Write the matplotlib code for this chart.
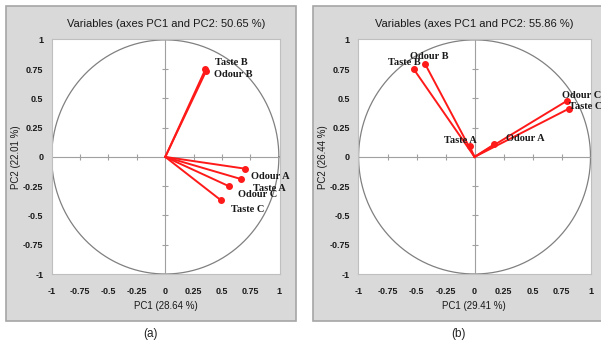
import numpy as np
import matplotlib.pyplot as plt
from matplotlib.patches import Rectangle

variables = ['Taste B', 'Odour B', 'Odour A', 'Taste A', 'Odour C', 'Taste C']

# panel (a) loadings
pc1_a = [0.353, 0.36, 0.70, 0.67, 0.56, 0.49]
pc2_a = [0.748, 0.735, -0.10, -0.19, -0.25, -0.37]
# panel (b) loadings
pc1_b = [-0.523, -0.428, 0.17, -0.043, 0.795, 0.815]
pc2_b = [0.748, 0.797, 0.108, 0.091, 0.478, 0.413]

titles = ['Variables (axes PC1 and PC2: 50.65 %)', 'Variables (axes PC1 and PC2: 55.86 %)']
xlabels = ['PC1 (28.64 %)', 'PC1 (29.41 %)']
ylabels = ['PC2 (22.01 %)', 'PC2 (26.44 %)']
panel_tags = ['(a)', '(b)']
ticks = [-1, -0.75, -0.5, -0.25, 0, 0.25, 0.5, 0.75, 1]
tick_labels = ['-1', '-0.75', '-0.5', '-0.25', '0', '0.25', '0.5', '0.75', '1']

# label offsets in points (layout only)
offs_a = [(7.2, 4.8), (5.5, -2.4), (4.6, -5.3), (8.4, -6.5), (6.5, -6.0), (7.2, -6.5)]
offs_b = [(-18.5, 4.6), (-10.8, 5.3), (8.2, 4.1), (-18.2, 4.3), (-3.1, 4.1), (0.0, 1.2)]

W, H = 601, 347
fig = plt.figure(figsize=(W / 100, H / 100), dpi=100)
fig.patch.set_facecolor('white')

def fx(px):
  return px / W

def fy(py):
  return 1 - py / H

# gray outer boxes
for x0, x1 in [(6, 296), (313, 640)]:
  fig.patches.append(Rectangle((fx(x0), fy(321)), fx(x1 - x0), (321 - 6) / H,
                               transform=fig.transFigure, facecolor='#d9d9d9',
                               edgecolor='#a6a6a6', lw=1.2, zorder=-5))

panels = [
  dict(px=(51.7, 280), data=(pc1_a, pc2_a), offs=offs_a, tag_x=150,
       ylab_x=16, xlim=(-1, 1.01)),
  dict(px=(358, 590.5), data=(pc1_b, pc2_b), offs=offs_b, tag_x=458,
       ylab_x=323, xlim=(-1.005, 1.0)),
]

for i, p in enumerate(panels):
  l, r = p['px']
  ax = fig.add_axes([fx(l), fy(274), fx(r - l), (274 - 38.7) / H])
  ax.set_zorder(3)
  ax.set_facecolor('white')
  ax.set_xlim(*p['xlim'])
  ax.set_ylim(-1, 1.01)
  for s in ax.spines.values():
    s.set_color('#bfbfbf')
    s.set_linewidth(0.8)

  t = np.linspace(0, 2 * np.pi, 400)
  ax.plot(np.cos(t), np.sin(t), color='#808080', lw=0.9, zorder=1)
  ax.axhline(0, color='#a0a0a0', lw=0.8, zorder=1)
  ax.axvline(0, color='#a0a0a0', lw=0.8, zorder=1)
  tk = [v for v in ticks if v not in (-1, 0, 1)]
  ax.plot(tk, [0] * len(tk), '|', color='#a0a0a0', ms=5, mew=0.8, zorder=1)
  ax.plot([0] * len(tk), tk, '_', color='#a0a0a0', ms=5, mew=0.8, zorder=1)

  xs, ys = p['data']
  for j, name in enumerate(variables):
    ax.plot([0, xs[j]], [0, ys[j]], color='#ff1a1a', lw=1.4, zorder=3)
    ax.plot(xs[j], ys[j], 'o', color='#ff1a1a', ms=4, zorder=4)
    ax.annotate(name, (xs[j], ys[j]), xytext=p['offs'][j], textcoords='offset points',
                ha='left', va='center', fontsize=7.5, fontweight='bold',
                family='Liberation Serif', color='#1a1a1a', annotation_clip=False, zorder=5)

  ax.set_xticks(ticks)
  ax.set_yticks(ticks)
  ax.set_xticklabels(tick_labels)
  ax.set_yticklabels(tick_labels)
  ax.tick_params(length=0, labelsize=6.5, labelcolor='#1a1a1a')
  ax.tick_params(axis='x', pad=9)
  ax.tick_params(axis='y', pad=6)
  for lab in ax.get_xticklabels() + ax.get_yticklabels():
    lab.set_family('Liberation Sans')
    lab.set_fontweight('bold')

  cx = (l + r) / 2
  fig.text(fx(cx), fy(24), titles[i], ha='center', va='center', fontsize=8,
           family='Liberation Sans', color='#1a1a1a')
  fig.text(fx(cx), fy(306), xlabels[i], ha='center', va='center', fontsize=7,
           family='Liberation Sans', color='#1a1a1a')
  fig.text(fx(p['ylab_x']), fy(157), ylabels[i], ha='center', va='center', fontsize=7,
           rotation=90, family='Liberation Sans', color='#1a1a1a')
  fig.text(fx(p['tag_x']), fy(334), panel_tags[i], ha='center', va='center', fontsize=8.5,
           family='Liberation Sans', color='#222222')

fig.savefig('out.png', dpi=100)
